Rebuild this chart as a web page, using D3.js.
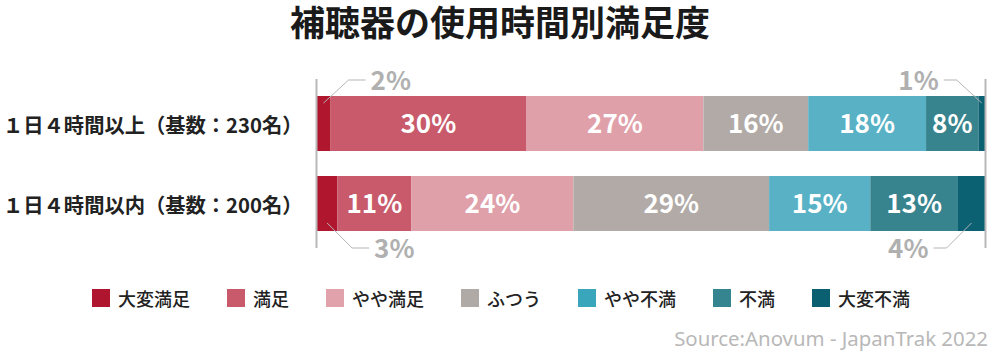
<!DOCTYPE html>
<html><head><meta charset="utf-8">
<script src="https://cdn.jsdelivr.net/npm/d3@7"></script>
<style>
html,body{margin:0;padding:0;background:#fff;}
svg{display:block;font-family:"Noto Sans CJK JP","Noto Sans",sans-serif;}
</style></head>
<body>
<svg id="chart" width="1000" height="355"></svg>
<script>
const title = "補聴器の使用時間別満足度";
const categories = ["１日４時間以上（基数：230名）", "１日４時間以内（基数：200名）"];
const seriesNames = ["大変満足", "満足", "やや満足", "ふつう", "やや不満", "不満", "大変不満"];
const seriesColors = ["#b0172f", "#c85a6b", "#e0a0aa", "#b1aaa6", "#58b1c5", "#37838e", "#0b6171"];
const legendColors = ["#b0152f", "#c85a6b", "#e1a2ac", "#b0aaa7", "#3aa6bc", "#348590", "#0a6070"];
const values230 = [2, 30, 27, 16, 18, 8, 1];
const values200 = [3, 11, 24, 29, 15, 13, 4];
const source = "Source:Anovum - JapanTrak 2022";

const rows = [values230, values200].map((vals, i) => {
  const o = {cat: categories[i]};
  seriesNames.forEach((s, j) => o[s] = vals[j]);
  return o;
});

const svg = d3.select("#chart");
const x = d3.scaleLinear().domain([0, 1]).range([317, 985]);
const y = d3.scaleBand().domain(categories).range([83.5, 243.5]).paddingInner(0.3125).paddingOuter(0.15625);
const color = d3.scaleOrdinal().domain(seriesNames).range(seriesColors);

const stack = d3.stack().keys(seriesNames).offset(d3.stackOffsetExpand);
const stacked = stack(rows);

// title
svg.append("text").attr("x", 500).attr("y", 20.5).attr("text-anchor", "middle")
  .attr("dominant-baseline", "central").attr("font-size", 35).attr("font-weight", 700)
  .attr("fill", "#1a1a1a").text(title);

// category labels
svg.append("g").selectAll("text").data(categories).join("text")
  .attr("x", 3).attr("y", d => y(d) + y.bandwidth() / 2)
  .attr("dominant-baseline", "central").attr("font-size", 20.3).attr("font-weight", 700)
  .attr("fill", "#222").text(d => d);

// bars
const groups = svg.append("g").selectAll("g").data(stacked).join("g")
  .attr("fill", d => color(d.key));
groups.selectAll("rect").data(d => d.map(p => Object.assign(p, {key: d.key}))).join("rect")
  .attr("x", d => x(d[0])).attr("y", d => y(d.data.cat))
  .attr("width", d => x(d[1]) - x(d[0])).attr("height", y.bandwidth());

// side lines
const lineTop = 79, lineBot = 248;
svg.append("g").selectAll("line").data([0, 1]).join("line")
  .attr("x1", d => d === 0 ? x(0) - 0.5 : x(1) + 0.5).attr("x2", d => d === 0 ? x(0) - 0.5 : x(1) + 0.5)
  .attr("y1", lineTop).attr("y2", lineBot).attr("stroke", "#b8b8b8").attr("stroke-width", 2);

// labels
const inside = [], outside = [];
stacked.forEach((s, j) => s.forEach((p, i) => {
  const val = [values230, values200][i][j];
  const w = x(p[1]) - x(p[0]);
  const item = {val, cx: (x(p[0]) + x(p[1])) / 2, row: i, first: j === 0, cat: p.data.cat};
  if (w >= 40) inside.push(item); else outside.push(item);
}));

svg.append("g").selectAll("text").data(inside).join("text")
  .attr("x", d => d.cx).attr("y", d => y(d.cat) + y.bandwidth() / 2 + 9.5)
  .attr("text-anchor", "middle").attr("font-size", 26).attr("font-weight", 700)
  .attr("fill", "#fff").text(d => d.val + "%");

const og = svg.append("g");
outside.forEach(d => {
  const top = d.row === 0;
  const y0 = top ? y(d.cat) + 7 : y(d.cat) + y.bandwidth() - 8;
  const y1 = top ? lineTop + 1 : lineBot;
  const dir = d.first ? 1 : -1;
  const xDiag = d.cx + dir * 25;
  const xEnd = xDiag + dir * (d.first ? 17 : 13);
  og.append("path")
    .attr("d", `M${d.cx},${y0}L${xDiag},${y1}L${xEnd},${y1}`)
    .attr("fill", "none").attr("stroke", "#b5b5b5").attr("stroke-width", 1);
  og.append("text").attr("x", xEnd + dir * 5).attr("y", y1 + 9.5)
    .attr("text-anchor", d.first ? "start" : "end")
    .attr("font-size", 26).attr("font-weight", 700).attr("fill", "#b0b0b0")
    .text(d.val + "%");
});

// legend
const lg = svg.append("g");
let lx = 92;
seriesNames.forEach((s, j) => {
  lg.append("rect").attr("x", lx).attr("y", 289).attr("width", 18).attr("height", 18)
    .attr("fill", legendColors[j]);
  const t = lg.append("text").attr("x", lx + 26).attr("y", 298)
    .attr("dominant-baseline", "central").attr("font-size", 18).attr("font-weight", 500)
    .attr("fill", "#222").text(s);
  lx += 26 + t.node().getComputedTextLength() + 37;
});

// source
svg.append("text").attr("x", 988).attr("y", 346).attr("text-anchor", "end")
  .attr("font-family", "'Noto Sans',sans-serif").attr("font-size", 20.4)
  .attr("fill", "#b8b8b8").text(source);
</script>
</body></html>
